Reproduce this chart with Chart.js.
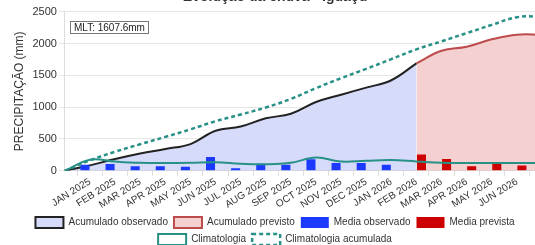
<!DOCTYPE html>
<html lang="pt">
<head>
    <meta charset="UTF-8">
    <title>Evolução da chuva - Iguaçu</title>
    <script src="https://cdn.jsdelivr.net/npm/chart.js"></script>
    <style>
        html, body {
            margin: 0;
            padding: 0;
            overflow: hidden;
            background: #fff;
        }

        .chart-container {
            position: absolute;
            left: 0;
            top: -11px;
            width: 545px;
            height: 266px;
        }
    </style>
</head>
<body>
    <div class="chart-container">
        <canvas id="chuvaChart"></canvas>
    </div>

    <script>
        // categories (first and last slots are empty, the cumulative lines start/end there)
        const labels = ['', 'JAN 2025', 'FEB 2025', 'MAR 2025', 'APR 2025', 'MAY 2025', 'JUN 2025',
            'JUL 2025', 'AUG 2025', 'SEP 2025', 'OCT 2025', 'NOV 2025', 'DEC 2025',
            'JAN 2026', 'FEB 2026', 'MAR 2026', 'APR 2026', 'MAY 2026', 'JUN 2026', ''];

        const acumObservado = [0, 85, 185, 272, 343, 420, 630, 695, 825, 897, 1081, 1197, 1308, 1424, 1690,
            null, null, null, null, null];
        const acumPrevisto = [null, null, null, null, null, null, null, null, null, null, null, null, null, null,
            1690, 1888, 1951, 2067, 2141, 2140];
        const mediaObservado = [null, 95, 105, 70, 70, 62, 215, 40, 112, 95, 180, 122, 122, 95,
            null, null, null, null, null, null];
        const mediaPrevista = [null, null, null, null, null, null, null, null, null, null, null, null, null, null,
            255, 185, 72, 106, 82, null];
        const climatologia = [0, 175, 145, 125, 122, 125, 135, 112, 102, 125, 210, 145, 158, 168, 147,
            127, 122, 122, 122, 122];
        const climatologiaAcum = [0, 165, 300, 418, 533, 651, 779, 885, 995, 1130, 1300, 1456, 1603, 1756, 1910,
            2036, 2165, 2294, 2415, 2425];

        const yTicks = [0, 500, 1000, 1500, 2000, 2500];
        const mltText = 'MLT: 1607.6mm';

        Chart.defaults.font.family = '"Liberation Sans", Arial, sans-serif';
        Chart.defaults.color = '#444';

        // little MLT box in the top-left corner of the plot
        const mltBox = {
            id: 'mltBox',
            afterDraw(chart) {
                const ctx = chart.ctx;
                const area = chart.chartArea;
                ctx.save();
                ctx.font = '10px "Liberation Sans", Arial, sans-serif';
                const w = Math.round(ctx.measureText(mltText).width + 7);
                const x = Math.round(area.left) + 5;
                const y = Math.round(area.top) + 9;
                ctx.fillStyle = '#fff';
                ctx.fillRect(x, y, w, 12);
                ctx.strokeStyle = '#777';
                ctx.lineWidth = 1;
                ctx.strokeRect(x + 0.5, y + 0.5, w, 12);
                ctx.fillStyle = '#222';
                ctx.textBaseline = 'middle';
                ctx.fillText(mltText, x + 4, y + 7);
                ctx.restore();
            }
        };

        const ctx = document.getElementById('chuvaChart').getContext('2d');
        new Chart(ctx, {
            type: 'bar',
            data: {
                labels: labels,
                datasets: [{
                    type: 'line',
                    label: 'Acumulado observado',
                    data: acumObservado,
                    borderColor: '#222',
                    backgroundColor: 'rgb(214, 219, 250)',
                    borderWidth: 2,
                    fill: 'origin',
                    tension: 0.4,
                    pointRadius: 0,
                    order: 5
                }, {
                    type: 'line',
                    label: 'Acumulado previsto',
                    data: acumPrevisto,
                    borderColor: 'rgb(190, 75, 75)',
                    backgroundColor: 'rgb(245, 208, 208)',
                    borderWidth: 2,
                    fill: 'origin',
                    tension: 0.4,
                    pointRadius: 0,
                    order: 5
                }, {
                    label: 'Media observado',
                    data: mediaObservado,
                    backgroundColor: 'rgb(28, 58, 255)',
                    borderColor: 'rgb(28, 58, 255)',
                    borderWidth: 0,
                    order: 3
                }, {
                    label: 'Media prevista',
                    data: mediaPrevista,
                    backgroundColor: 'rgb(205, 0, 0)',
                    borderColor: 'rgb(205, 0, 0)',
                    borderWidth: 0,
                    order: 3
                }, {
                    type: 'line',
                    label: 'Climatologia',
                    data: climatologia,
                    borderColor: 'rgb(40, 145, 135)',
                    backgroundColor: '#fff',
                    borderWidth: 2,
                    fill: false,
                    tension: 0.4,
                    pointRadius: 0,
                    order: 1
                }, {
                    type: 'line',
                    label: 'Climatologia acumulada',
                    data: climatologiaAcum,
                    borderColor: 'rgb(40, 145, 135)',
                    backgroundColor: '#fff',
                    borderWidth: 2.5,
                    borderDash: [4, 3],
                    fill: false,
                    tension: 0.4,
                    pointRadius: 0,
                    order: 1
                }]
            },
            options: {
                responsive: true,
                maintainAspectRatio: false,
                animation: false,
                layout: {
                    padding: { left: 8, right: 3 }
                },
                plugins: {
                    title: {
                        display: true,
                        text: 'Evolução da chuva - Iguaçu',
                        font: { size: 14, weight: 'bold' },
                        color: '#333',
                        padding: { top: 0, bottom: 6 }
                    },
                    legend: {
                        position: 'bottom',
                        labels: {
                            boxWidth: 28,
                            boxHeight: 11,
                            padding: 6,
                            font: { size: 10 },
                            color: '#333',
                            sort: (a, b) => a.datasetIndex - b.datasetIndex
                        }
                    },
                    tooltip: { enabled: false }
                },
                scales: {
                    x: {
                        offset: false,
                        afterFit: (scale) => {
                            scale.paddingRight = 0;
                        },
                        grid: {
                            drawOnChartArea: false,
                            color: '#ddd',
                            tickLength: 5
                        },
                        ticks: {
                            autoSkip: false,
                            minRotation: 32,
                            maxRotation: 32,
                            padding: 0,
                            font: { size: 10 },
                            color: '#333'
                        }
                    },
                    y: {
                        min: 0,
                        max: 2500,
                        afterBuildTicks: (scale) => {
                            scale.ticks = yTicks.map(v => ({ value: v }));
                        },
                        grid: { color: '#e6e6e6', tickLength: 6 },
                        border: { color: '#ddd' },
                        ticks: {
                            padding: 2,
                            font: { size: 11 },
                            color: '#333',
                            callback: (v) => String(v)
                        },
                        title: {
                            display: true,
                            text: 'PRECIPITAÇÃO (mm)',
                            font: { size: 12 },
                            color: '#333',
                            padding: 4
                        }
                    }
                }
            },
            plugins: [mltBox]
        });
    </script>
</body>
</html>
